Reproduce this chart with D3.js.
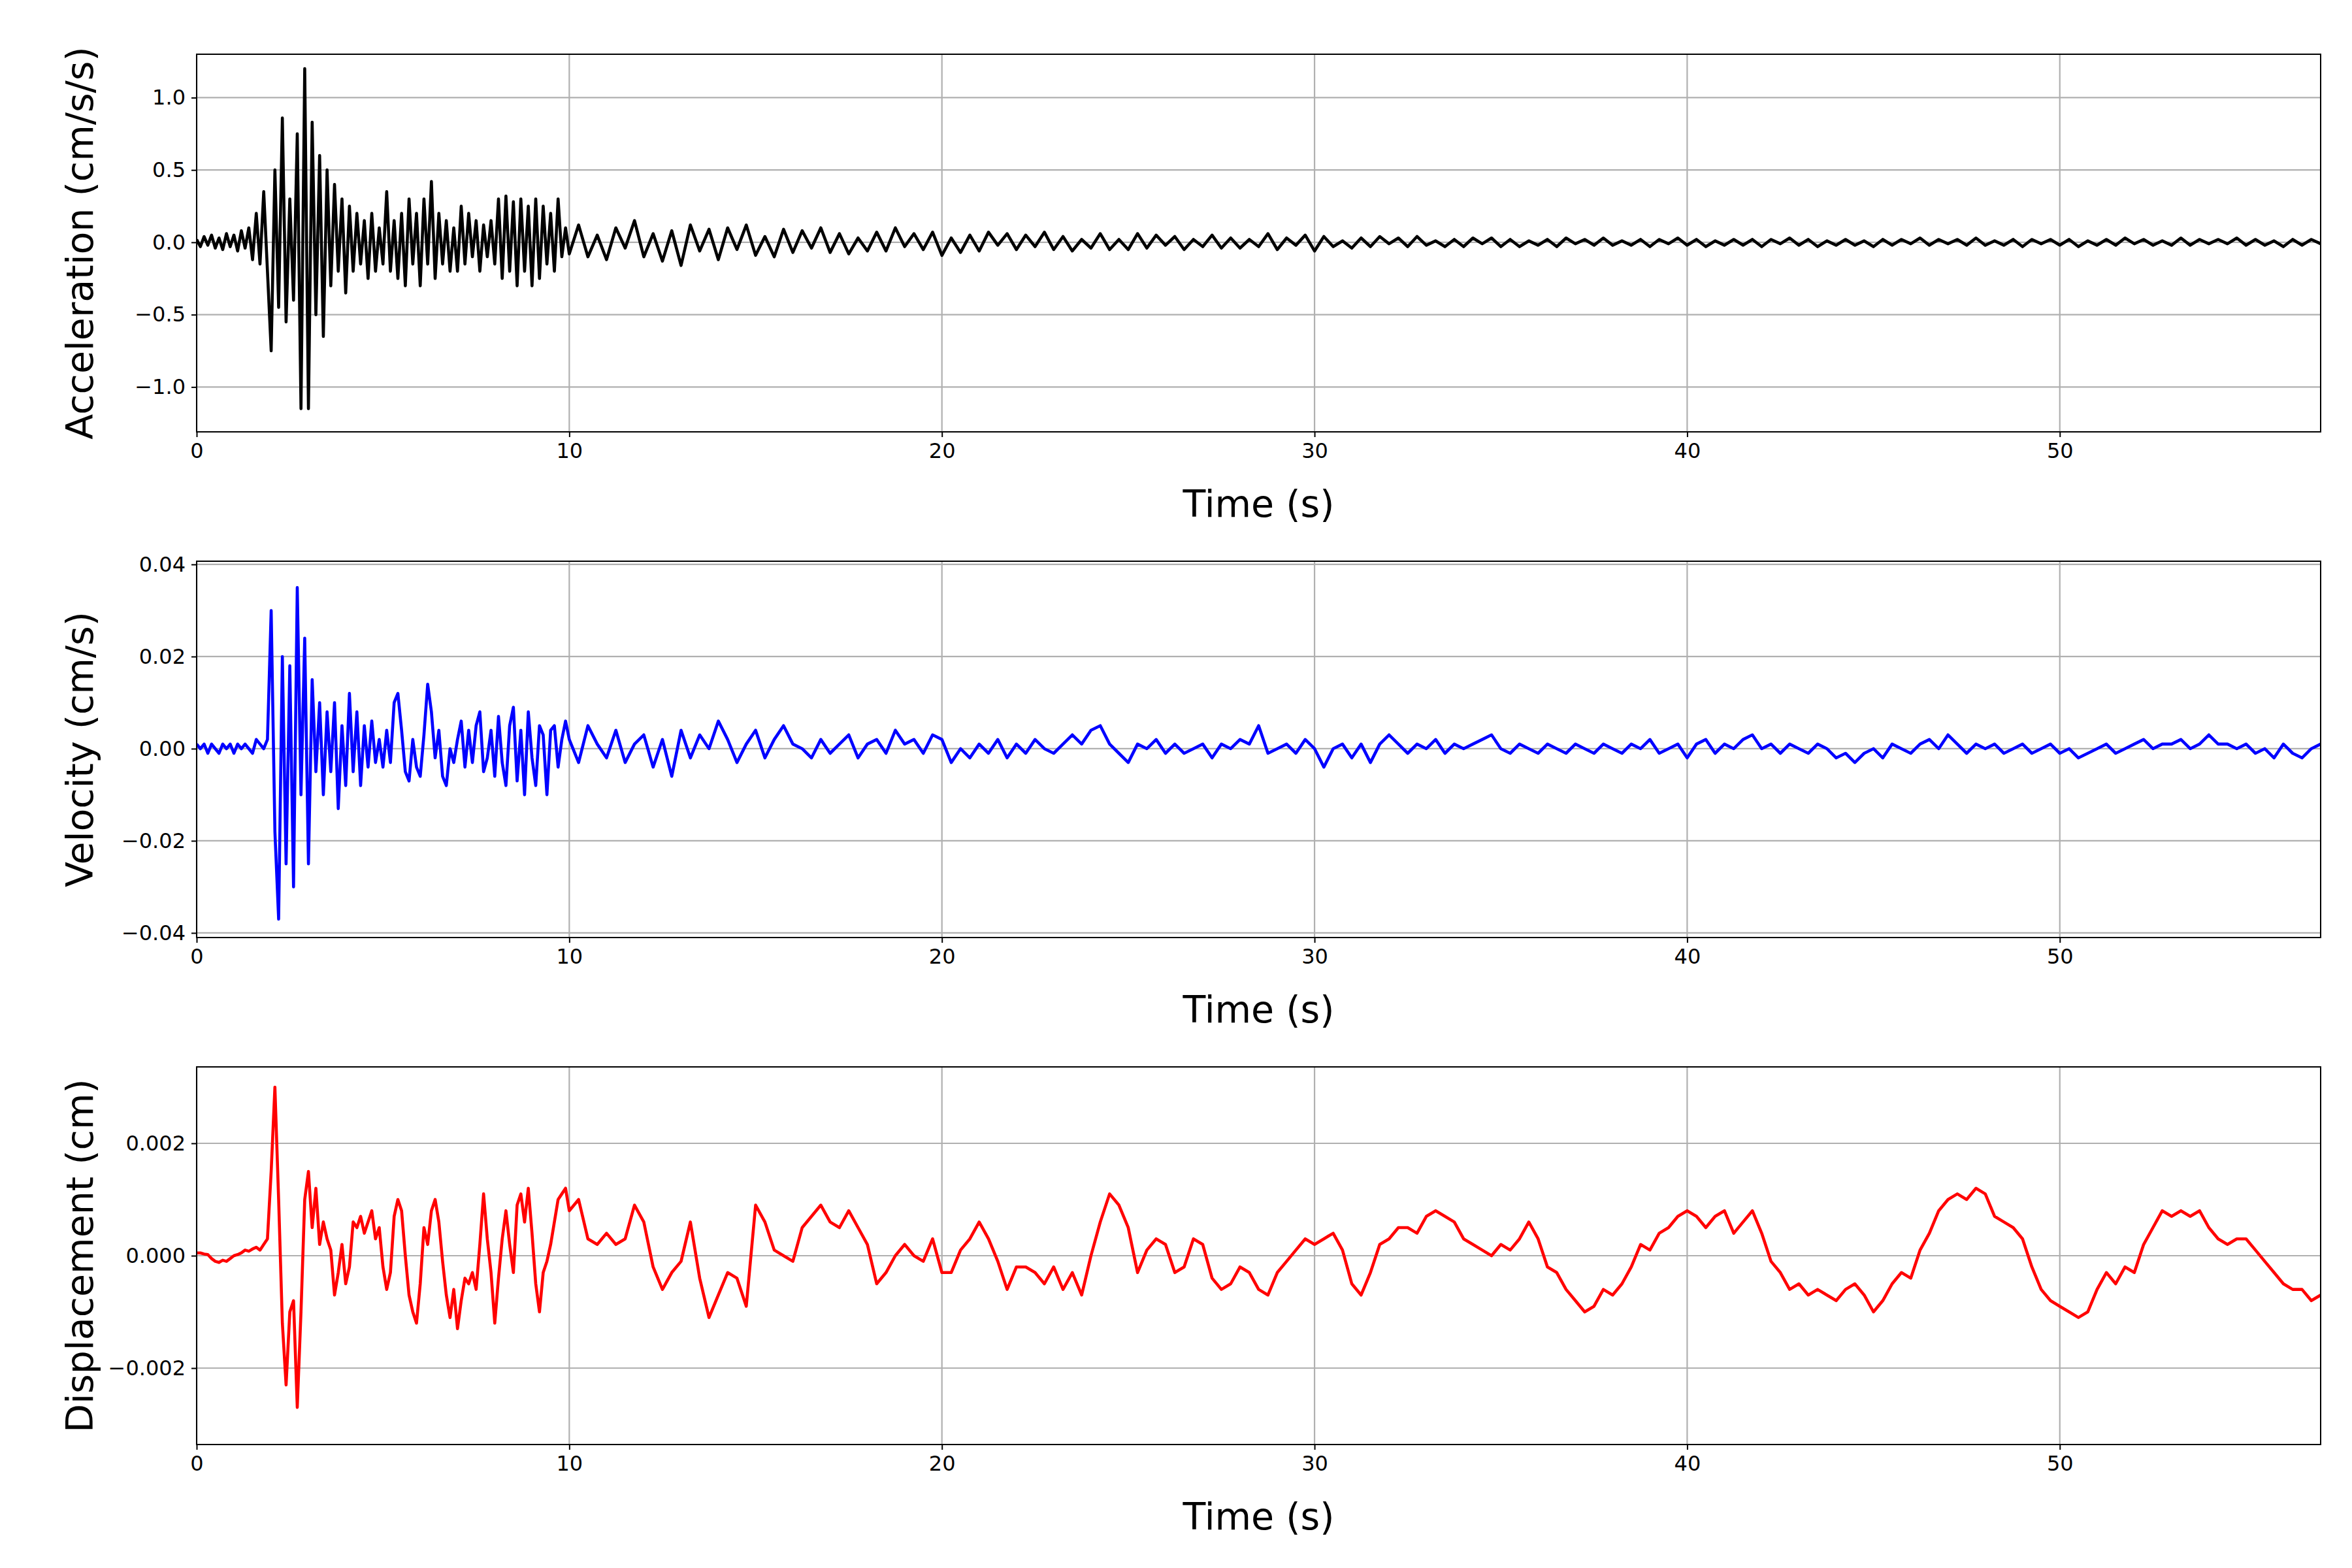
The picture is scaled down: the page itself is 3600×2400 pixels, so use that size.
<!DOCTYPE html>
<html><head><meta charset="utf-8">
<script src="https://cdn.jsdelivr.net/npm/d3@7"></script>
<style>body{margin:0;background:#fff}</style>
</head><body><div id="chart"></div>
<script>
// early part sampled every 0.1 s (0..10), late part every 0.25 s (10.25..57)
var accEarly = [0.02,-0.03,0.04,-0.02,0.05,-0.04,0.03,-0.05,0.06,-0.03,0.05,-0.06,0.08,-0.04,0.1,
	-0.12,0.2,-0.15,0.35,-0.2,
	-0.75,0.5,-0.45,0.86,-0.55,0.3,-0.4,0.75,-1.15,1.2,
	-1.15,0.83,-0.5,0.6,-0.65,0.5,-0.3,0.4,-0.2,0.3,
	-0.35,0.25,-0.2,0.2,-0.15,0.15,-0.25,0.2,-0.2,0.1,
	-0.15,0.35,-0.2,0.15,-0.25,0.2,-0.3,0.3,-0.15,0.2,
	-0.3,0.3,-0.15,0.42,-0.25,0.2,-0.15,0.15,-0.2,0.1,
	-0.2,0.25,-0.15,0.2,-0.1,0.15,-0.2,0.12,-0.1,0.15,
	-0.15,0.3,-0.25,0.32,-0.2,0.28,-0.3,0.3,-0.2,0.25,
	-0.3,0.3,-0.25,0.25,-0.15,0.2,-0.2,0.3,-0.1,0.1,
	-0.08];
var accLate = [0.12,-0.1,0.05,-0.12,0.1,-0.04,0.15,-0.1,
	0.06,-0.13,0.08,-0.16,0.12,-0.06,0.09,-0.12,
	0.1,-0.05,0.12,-0.09,0.04,-0.1,0.09,-0.07,
	0.08,-0.04,0.1,-0.07,0.06,-0.08,0.03,-0.06,
	0.07,-0.06,0.1,-0.03,0.06,-0.05,0.07,-0.09,
	0.03,-0.07,0.05,-0.06,0.07,-0.02,0.06,-0.05,
	0.05,-0.03,0.07,-0.05,0.04,-0.06,0.02,-0.04,
	0.06,-0.05,0.02,-0.05,0.06,-0.04,0.05,-0.02,
	0.04,-0.05,0.02,-0.03,0.05,-0.04,0.03,-0.04,
	0.02,-0.03,0.06,-0.05,0.03,-0.02,0.05,-0.06,
	0.04,-0.03,0.01,-0.04,0.03,-0.03,0.04,-0.01,
	0.03,-0.03,0.04,-0.02,0.01,-0.03,0.02,-0.03,
	0.03,-0.01,0.03,-0.03,0.02,-0.03,0.01,-0.02,
	0.02,-0.03,0.03,-0.01,0.02,-0.02,0.03,-0.02,
	0.01,-0.02,0.02,-0.03,0.02,-0.01,0.03,-0.02,
	0.02,-0.03,0.01,-0.02,0.02,-0.02,0.02,-0.03,
	0.02,-0.01,0.03,-0.02,0.02,-0.03,0.01,-0.02,
	0.02,-0.02,0.01,-0.03,0.02,-0.02,0.02,-0.01,
	0.03,-0.02,0.02,-0.01,0.02,-0.02,0.03,-0.02,
	0.01,-0.02,0.02,-0.03,0.02,-0.01,0.02,-0.02,
	0.02,-0.03,0.01,-0.02,0.02,-0.02,0.03,-0.01,
	0.02,-0.02,0.01,-0.02,0.03,-0.02,0.02,-0.01,
	0.02,-0.01,0.03,-0.02,0.02,-0.02,0.01,-0.03,
	0.02,-0.02,0.02,-0.01];
var velEarly = [0.001,0,0.001,-0.001,0.001,0,-0.001,0.001,0,0.001,-0.001,0.001,0,0.001,0,
	-0.001,0.002,0.001,0,0.002,
	0.03,-0.018,-0.037,0.02,-0.025,0.018,-0.03,0.035,-0.01,0.024,
	-0.025,0.015,-0.005,0.01,-0.01,0.008,-0.005,0.01,-0.013,0.005,
	-0.008,0.012,-0.005,0.008,-0.008,0.005,-0.004,0.006,-0.003,0.002,
	-0.004,0.004,-0.003,0.01,0.012,0.004,-0.005,-0.007,0.002,-0.004,
	-0.006,0.003,0.014,0.008,-0.002,0.004,-0.006,-0.008,0,-0.003,
	0.002,0.006,-0.004,0.004,-0.003,0.005,0.008,-0.005,-0.002,0.004,
	-0.006,0.007,-0.003,-0.008,0.005,0.009,-0.007,0.004,-0.01,0.008,
	-0.002,-0.008,0.005,0.003,-0.01,0.004,0.005,-0.004,0.002,0.006,
	0.002];
var velLate = [-0.003,0.005,0.001,-0.002,0.004,-0.003,0.001,0.003,
	-0.004,0.002,-0.006,0.004,-0.002,0.003,0,0.006,
	0.002,-0.003,0.001,0.004,-0.002,0.002,0.005,0.001,
	0,-0.002,0.002,-0.001,0.001,0.003,-0.002,0.001,
	0.002,-0.001,0.004,0.001,0.002,-0.001,0.003,0.002,
	-0.003,0,-0.002,0.001,-0.001,0.002,-0.002,0.001,
	-0.001,0.002,0,-0.001,0.001,0.003,0.001,0.004,
	0.005,0.001,-0.001,-0.003,0.001,0,0.002,-0.001,
	0.001,-0.001,0,0.001,-0.002,0.001,0,0.002,
	0.001,0.005,-0.001,0,0.001,-0.001,0.002,0,
	-0.004,0,0.001,-0.002,0.001,-0.003,0.001,0.003,
	0.001,-0.001,0.001,0,0.002,-0.001,0.001,0,
	0.001,0.002,0.003,0,-0.001,0.001,0,-0.001,
	0.001,0,-0.001,0.001,0,-0.001,0.001,0,
	-0.001,0.001,0,0.002,-0.001,0,0.001,-0.002,
	0.001,0.002,-0.001,0.001,0,0.002,0.003,0,
	0.001,-0.001,0.001,0,-0.001,0.001,0,-0.002,
	-0.001,-0.003,-0.001,0,-0.002,0.001,0,-0.001,
	0.001,0.002,0,0.003,0.001,-0.001,0.001,0,
	0.001,-0.001,0,0.001,-0.001,0,0.001,-0.001,
	0,-0.002,-0.001,0,0.001,-0.001,0,0.001,
	0.002,0,0.001,0.001,0.002,0,0.001,0.003,
	0.001,0.001,0,0.001,-0.001,0,-0.002,0.001,
	-0.001,-0.002,0,0.001];
// displacement in units of 0.001 cm
var dispEarly = [0.05,0.05,0.03,0.02,-0.05,-0.1,-0.12,-0.08,-0.1,-0.05,0,0.02,0.05,0.1,0.08,0.12,0.15,0.1,0.2,0.3,
	1.5,3.0,1.0,-1.2,-2.3,-1.0,-0.8,-2.7,-1.0,1.0,
	1.5,0.5,1.2,0.2,0.6,0.3,0.1,-0.7,-0.3,0.2,
	-0.5,-0.2,0.6,0.5,0.7,0.4,0.6,0.8,0.3,0.5,
	-0.2,-0.6,-0.3,0.7,1.0,0.8,0,-0.7,-1.0,-1.2,
	-0.5,0.5,0.2,0.8,1.0,0.6,-0.1,-0.7,-1.1,-0.6,
	-1.3,-0.8,-0.4,-0.5,-0.3,-0.6,0.2,1.1,0.3,-0.3,
	-1.2,-0.4,0.3,0.8,0.2,-0.3,0.9,1.1,0.6,1.2,
	0.4,-0.5,-1.0,-0.3,-0.1,0.2,0.6,1.0,1.1,1.2,
	0.8];
var dispLate = [1.0,0.3,0.2,0.4,0.2,0.3,0.9,0.6,
	-0.2,-0.6,-0.3,-0.1,0.6,-0.4,-1.1,-0.7,
	-0.3,-0.4,-0.9,0.9,0.6,0.1,0,-0.1,
	0.5,0.7,0.9,0.6,0.5,0.8,0.5,0.2,
	-0.5,-0.3,0,0.2,0,-0.1,0.3,-0.3,
	-0.3,0.1,0.3,0.6,0.3,-0.1,-0.6,-0.2,
	-0.2,-0.3,-0.5,-0.2,-0.6,-0.3,-0.7,0,
	0.6,1.1,0.9,0.5,-0.3,0.1,0.3,0.2,
	-0.3,-0.2,0.3,0.2,-0.4,-0.6,-0.5,-0.2,
	-0.3,-0.6,-0.7,-0.3,-0.1,0.1,0.3,0.2,
	0.3,0.4,0.1,-0.5,-0.7,-0.3,0.2,0.3,
	0.5,0.5,0.4,0.7,0.8,0.7,0.6,0.3,
	0.2,0.1,0,0.2,0.1,0.3,0.6,0.3,
	-0.2,-0.3,-0.6,-0.8,-1.0,-0.9,-0.6,-0.7,
	-0.5,-0.2,0.2,0.1,0.4,0.5,0.7,0.8,
	0.7,0.5,0.7,0.8,0.4,0.6,0.8,0.4,
	-0.1,-0.3,-0.6,-0.5,-0.7,-0.6,-0.7,-0.8,
	-0.6,-0.5,-0.7,-1.0,-0.8,-0.5,-0.3,-0.4,
	0.1,0.4,0.8,1.0,1.1,1.0,1.2,1.1,
	0.7,0.6,0.5,0.3,-0.2,-0.6,-0.8,-0.9,
	-1.0,-1.1,-1.0,-0.6,-0.3,-0.5,-0.2,-0.3,
	0.2,0.5,0.8,0.7,0.8,0.7,0.8,0.5,
	0.3,0.2,0.3,0.3,0.1,-0.1,-0.3,-0.5,
	-0.6,-0.6,-0.8,-0.7];

var xTicks = [0,10,20,30,40,50];

function series(early, late, k){
	var pts = early.map(function(v,i){ return [i*0.1, v*k]; });
	late.forEach(function(v,i){ pts.push([10.25+i*0.25, v*k]); });
	return pts;
}

var W = 3600, H = 2400, left = 301, right = 3552;
var svg = d3.select("#chart").append("svg").attr("width",W).attr("height",H)
	.style("font-family","DejaVu Sans");

function drawPanel(top, bottom, data, yDom, yTicks, fmt, color, ylabel){
	var x = d3.scaleLinear().domain([0,57]).range([left,right]);
	var y = d3.scaleLinear().domain(yDom).range([bottom,top]);
	var g = svg.append("g");
	g.selectAll(".gx").data(xTicks).enter().append("line")
		.attr("x1",function(d){return x(d);}).attr("x2",function(d){return x(d);})
		.attr("y1",top).attr("y2",bottom).attr("stroke","#b0b0b0").attr("stroke-width",2.2);
	g.selectAll(".gy").data(yTicks).enter().append("line")
		.attr("y1",function(d){return y(d);}).attr("y2",function(d){return y(d);})
		.attr("x1",left).attr("x2",right).attr("stroke","#b0b0b0").attr("stroke-width",2.2);
	var clip = "c"+top;
	svg.append("clipPath").attr("id",clip).append("rect")
		.attr("x",left).attr("y",top).attr("width",right-left).attr("height",bottom-top);
	g.append("path").datum(data).attr("clip-path","url(#"+clip+")")
		.attr("d",d3.line().x(function(d){return x(d[0]);}).y(function(d){return y(d[1]);}))
		.attr("fill","none").attr("stroke",color).attr("stroke-width",4.6).attr("stroke-linejoin","round");
	var ax = g.append("g").attr("transform","translate(0,"+bottom+")")
		.call(d3.axisBottom(x).tickValues(xTicks).tickSize(8).tickPadding(9));
	var ay = g.append("g").attr("transform","translate("+left+",0)")
		.call(d3.axisLeft(y).tickValues(yTicks).tickFormat(d3.format(fmt)).tickSize(8).tickPadding(9));
	[ax,ay].forEach(function(a){
		a.select(".domain").remove();
		a.selectAll("line").attr("stroke-width",2);
		a.selectAll("text").attr("font-size",32).attr("font-family","DejaVu Sans");
	});
	g.append("rect").attr("x",left).attr("y",top).attr("width",right-left).attr("height",bottom-top)
		.attr("fill","none").attr("stroke","#000").attr("stroke-width",2);
	g.append("text").attr("x",(left+right)/2).attr("y",bottom+130).attr("text-anchor","middle")
		.attr("font-size",57).text("Time (s)");
	g.append("text").attr("transform","translate(122,"+((top+bottom)/2)+") rotate(-90)")
		.attr("text-anchor","middle").attr("dy","0.35em").attr("font-size",57).text(ylabel);
}

drawPanel(83, 661, series(accEarly, accLate, 1), [-1.31,1.30], [-1.0,-0.5,0,0.5,1.0], ".1f", "#000", "Acceleration (cm/s/s)");
drawPanel(859, 1435, series(velEarly, velLate, 1), [-0.041,0.0407], [-0.04,-0.02,0,0.02,0.04], ".2f", "#0000ff", "Velocity (cm/s)");
drawPanel(1633, 2211, series(dispEarly, dispLate, 0.001), [-0.00336,0.00336], [-0.002,0,0.002], ".3f", "#ff0000", "Displacement (cm)");
</script>
</body></html>
